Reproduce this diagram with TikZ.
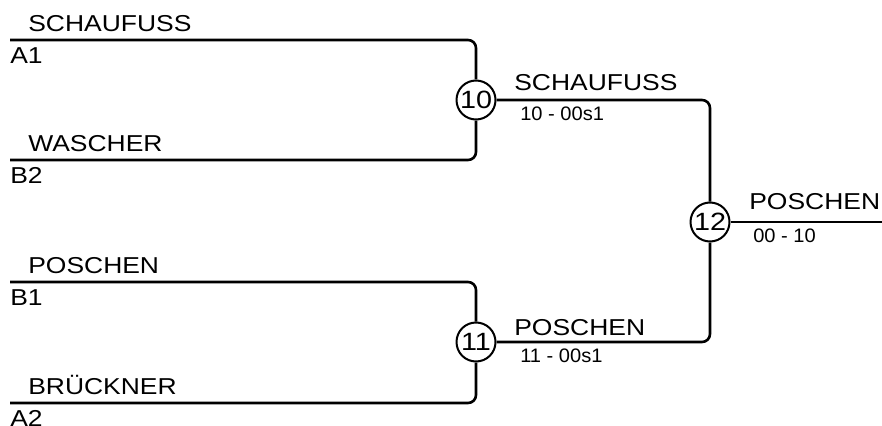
\documentclass[tikz,border=0pt]{standalone}
\usepackage{fontspec}
\setmainfont{Liberation Sans}[FakeStretch=1.15]
\newfontfamily\scorefont{Liberation Sans}[FakeStretch=1.03]

\tikzset{
player/.style={anchor=base west,inner sep=0pt,font=\fontsize{23}{25}\selectfont},
seedno/.style={anchor=north west,inner sep=0pt,font=\fontsize{23}{25}\selectfont},
result/.style={anchor=north west,inner sep=0pt,font=\scorefont\fontsize{19.5}{21}\selectfont},
game/.style={circle,draw,line width=2pt,minimum size=39pt,inner sep=0pt,fill=white,font=\fontsize{25}{27}\selectfont}
}

\begin{document}
\begin{tikzpicture}[x=1pt,y=-1pt,line width=2.6pt]
\useasboundingbox (0,0) rectangle (882,425);

\node (g10) at (476,100)[game]{10};
\node (g11) at (476,342)[game]{11};
\node (g12) at (710,222)[game]{12};

% first round
\foreach \y/\pl/\sd in {40/SCHAUFUSS/A1,160/WASCHER/B2,282/POSCHEN/B1,403/BRÜCKNER/A2}
{
\coordinate (e\sd) at (10,\y);
\node (p\sd) at (27,\y-8.5)[player]{\pl};
\node (s\sd) at (9,\y+6)[seedno]{\sd};
}

\draw[rounded corners=8pt] (eA1) -- (eA1 -| g10) -- (g10);
\draw[rounded corners=8pt] (eB2) -- (eB2 -| g10) -- (g10);
\draw[rounded corners=8pt] (eB1) -- (eB1 -| g11) -- (g11);
\draw[rounded corners=8pt] (eA2) -- (eA2 -| g11) -- (g11);

% semi finals
\node (w10) at (513,91)[player]{SCHAUFUSS};
\node (r10) at (519,106)[result]{10 - 00s1};
\node (w11) at (513,335)[player]{POSCHEN};
\node (r11) at (519,348)[result]{11 - 00s1};

\draw[rounded corners=8pt] (g10) -- (g10 -| g12) -- (g12);
\draw[rounded corners=8pt] (g11) -- (g11 -| g12) -- (g12);

% final
\coordinate (fin) at (882,222);
\node (w12) at (748,209)[player]{POSCHEN};
\node (r12) at (752,228)[result]{00 - 10};
\draw (g12) -- (fin);

\end{tikzpicture}
\end{document}
